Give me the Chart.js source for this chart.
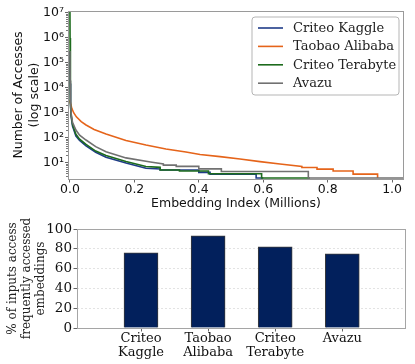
<!DOCTYPE html>
<html><head><meta charset="utf-8">
<script src="https://cdn.jsdelivr.net/npm/chart.js@4.4.1/dist/chart.umd.min.js"></script>
<style>
html,body{margin:0;padding:0;background:#fff;width:415px;height:364px;overflow:hidden;}
canvas{position:absolute;left:0;}
#c1{top:0;}
#c2{top:215px;}
</style></head><body>
<canvas id="c1" width="415" height="215"></canvas>
<canvas id="c2" width="415" height="149"></canvas>
<script>
// ---------- data: top chart (embedding index in millions, number of accesses) ----------
const seriesNames  = ['Criteo Kaggle', 'Taobao Alibaba', 'Criteo Terabyte', 'Avazu'];
const seriesColors = ['#1f3c88', '#e5641a', '#1d6b1d', '#717171'];

const kaggleX = [0, 0.0008, 0.002, 0.004, 0.008, 0.0186, 0.03, 0.05, 0.08, 0.112, 0.174, 0.236, 0.28, 0.28, 0.40, 0.40, 0.435, 0.435, 0.578, 0.578, 0.60];
const kaggleY = [3e5, 1.5e4, 2000, 700, 300, 120, 80, 48, 27, 17, 10, 6.2, 5.8, 5.25, 5.25, 4.2, 4.2, 3.6, 3.6, 2.5, 2.5];

const taobaoX = [0, 0.002, 0.006, 0.012, 0.02, 0.035, 0.05, 0.075, 0.112, 0.174, 0.236, 0.298, 0.36, 0.404, 0.466, 0.528, 0.59, 0.652, 0.72, 0.72, 0.767, 0.767, 0.817, 0.817, 0.879, 0.879, 0.955, 0.955];
const taobaoY = [3200, 2400, 1500, 1000, 700, 450, 330, 220, 145, 80, 52, 36, 27.5, 22, 18, 14.5, 11.3, 9.1, 7.3, 6.6, 6.6, 5.7, 5.7, 4.8, 4.8, 3.6, 3.6, 2.5];

const terabyteX = [0, 0.0004, 0.001, 0.002, 0.004, 0.008, 0.0186, 0.03, 0.05, 0.08, 0.112, 0.174, 0.236, 0.28, 0.28, 0.34, 0.34, 0.43, 0.43, 0.595, 0.595, 0.745];
const terabyteY = [1.2e7, 1e6, 2e4, 2500, 800, 350, 140, 90, 55, 30, 20, 11.5, 7.2, 6.7, 5.25, 5.25, 4.8, 4.8, 3.7, 3.7, 2.5, 2.5];

const avazuX = [0, 0.0008, 0.002, 0.004, 0.008, 0.0186, 0.03, 0.05, 0.08, 0.112, 0.174, 0.25, 0.29, 0.29, 0.33, 0.33, 0.40, 0.40, 0.47, 0.47, 0.74, 0.74, 1.035];
const avazuY = [3e5, 2e4, 2500, 900, 420, 209, 130, 83, 45, 28, 16, 11, 9.2, 8.2, 8.2, 7.3, 7.3, 5.8, 5.8, 4.6, 4.6, 2.5, 2.5];

const xTickValues = [0, 0.2, 0.4, 0.6, 0.8, 1.0];
const yTickValues = [1e1, 1e2, 1e3, 1e4, 1e5, 1e6, 1e7];

// ---------- data: bottom chart ----------
const barCategories = [['Criteo', 'Kaggle'], ['Taobao', 'Alibaba'], ['Criteo', 'Terabyte'], ['Avazu']];
const barValues = [76, 93, 82, 75];
const barTickValues = [0, 20, 40, 60, 80, 100];

// ---------- helpers ----------
const sup = ['⁰','¹','²','³','⁴','⁵','⁶','⁷','⁸','⁹'];
const toPoints = (xs, ys) => xs.map((x, i) => ({x: x, y: ys[i]}));
const seriesX = [kaggleX, taobaoX, terabyteX, avazuX];
const seriesY = [kaggleY, taobaoY, terabyteY, avazuY];
const drawOrder = [3, 2, 1, 0]; // Avazu drawn on top

const SANS = "'DejaVu Sans', sans-serif";
const SERIF = "'DejaVu Serif', serif";

const frameBox = {
  id: 'frameBox',
  afterDatasetsDraw(chart, args, opts) {
    const {ctx, chartArea: a} = chart;
    ctx.save();
    ctx.strokeStyle = opts.color || '#999';
    ctx.lineWidth = 1;
    ctx.strokeRect(Math.round(a.left) + 0.5, Math.round(a.top) + 0.5, Math.round(a.right - a.left) - 1, Math.round(a.bottom - a.top));
    if (opts.minor) {
      const y = chart.scales.y;
      ctx.strokeStyle = '#777';
      ctx.beginPath();
      for (let k = 0; k < 8; k++) {
        for (let m = 2; m <= 9; m++) {
          const v = m * Math.pow(10, k);
          if (v < y.min || v > y.max) continue;
          const py = Math.round(y.getPixelForValue(v)) + 0.5;
          ctx.moveTo(a.left - 2, py); ctx.lineTo(a.left, py);
        }
      }
      ctx.stroke();
    }
    ctx.restore();
  }
};

const boxLegend = {
  id: 'boxLegend',
  afterDraw(chart, args, opts) {
    if (!opts.show) return;
    const {ctx, chartArea: a} = chart;
    const bx = a.right - 152, by = a.top + 6, bw = 147, bh = 78, r = 3;
    ctx.save();
    ctx.beginPath();
    ctx.moveTo(bx + r, by);
    ctx.arcTo(bx + bw, by, bx + bw, by + bh, r);
    ctx.arcTo(bx + bw, by + bh, bx, by + bh, r);
    ctx.arcTo(bx, by + bh, bx, by, r);
    ctx.arcTo(bx, by, bx + bw, by, r);
    ctx.closePath();
    ctx.fillStyle = 'rgba(255,255,255,0.9)';
    ctx.fill();
    ctx.strokeStyle = '#b5b5b5';
    ctx.lineWidth = 1;
    ctx.stroke();
    ctx.font = "13px " + SERIF;
    ctx.textBaseline = 'middle';
    ctx.textAlign = 'left';
    seriesNames.forEach((name, i) => {
      const y = by + 11 + i * 18.4;
      ctx.strokeStyle = seriesColors[i];
      ctx.lineWidth = 1.6;
      ctx.beginPath();
      ctx.moveTo(bx + 6, y); ctx.lineTo(bx + 31, y);
      ctx.stroke();
      ctx.fillStyle = '#222';
      ctx.fillText(name, bx + 41, y + 0.5);
    });
    ctx.restore();
  }
};

// ---------- top chart ----------
new Chart(document.getElementById('c1'), {
  type: 'line',
  data: {
    datasets: seriesNames.map((n, i) => ({
      label: n,
      data: toPoints(seriesX[i], seriesY[i]),
      borderColor: seriesColors[i],
      backgroundColor: seriesColors[i],
      borderWidth: 1.6,
      pointRadius: 0,
      tension: 0,
      fill: false,
      order: drawOrder[i]
    }))
  },
  options: {
    responsive: false,
    animation: false,
    events: [],
    layout: {padding: {top: 11, right: 11, left: 0, bottom: 0}},
    plugins: {legend: {display: false}, tooltip: {enabled: false},
      frameBox: {color: '#9a9a9a', minor: true}, boxLegend: {show: true}},
    scales: {
      x: {
        type: 'linear', min: -0.006, max: 1.037,
        afterBuildTicks: s => { s.ticks = xTickValues.map(v => ({value: v})); },
        afterFit: s => { s.height = 36; },
        ticks: {callback: v => Number(v).toFixed(1), color: '#111', padding: 0,
          font: {family: SANS, size: 12.5, lineHeight: 1.1}, maxRotation: 0, autoSkip: false},
        grid: {drawOnChartArea: false, drawTicks: true, tickLength: 3.5, tickColor: '#666'},
        border: {display: false},
        title: {display: true, text: 'Embedding Index (Millions)', color: '#111',
          font: {family: SANS, size: 12.5, lineHeight: 1.2}, padding: {top: 0, bottom: 4}}
      },
      y: {
        type: 'logarithmic', min: 2.29, max: 1.2e7,
        afterBuildTicks: s => { s.ticks = yTickValues.map(v => ({value: v})); },
        afterFit: s => { s.width = 68; },
        ticks: {callback: v => '10' + sup[Math.round(Math.log10(v))], color: '#111', padding: 1,
          font: {family: SANS, size: 12.5}, autoSkip: false},
        grid: {drawOnChartArea: false, drawTicks: true, tickLength: 3, tickColor: '#666'},
        border: {display: false},
        title: {display: true, text: ['Number of Accesses', '(log scale)'], color: '#111',
          font: {family: SANS, size: 12.5, lineHeight: '16px'}, padding: {top: 11, bottom: 0}}
      }
    }
  },
  plugins: [frameBox, boxLegend]
});

// ---------- bottom chart ----------
new Chart(document.getElementById('c2'), {
  type: 'bar',
  data: {
    datasets: [{
      data: barValues.map((v, i) => ({x: i, y: v})),
      backgroundColor: '#02205c',
      borderColor: '#3a3a3a',
      borderWidth: 1,
      barThickness: 34
    }]
  },
  options: {
    responsive: false,
    animation: false,
    events: [],
    layout: {padding: {top: 14, right: 9, left: 0, bottom: 0}},
    plugins: {legend: {display: false}, tooltip: {enabled: false},
      frameBox: {color: '#a5a5a5', minor: false}, boxLegend: {show: false}},
    scales: {
      x: {
        type: 'linear', min: -0.954, max: 3.95, offset: false,
        afterBuildTicks: s => { s.ticks = barCategories.map((c, i) => ({value: i})); },
        afterFit: s => { s.height = 36; },
        ticks: {callback: v => barCategories[Math.round(v)], color: '#111', padding: 0,
          font: {family: SERIF, size: 13, lineHeight: '14px'}, maxRotation: 0, autoSkip: false},
        grid: {offset: false, drawOnChartArea: false, drawTicks: true, tickLength: 3.5, tickColor: '#666'},
        border: {display: false}
      },
      y: {
        min: 0, max: 100,
        afterBuildTicks: s => { s.ticks = barTickValues.map(v => ({value: v})); },
        afterFit: s => { s.width = 77; },
        ticks: {color: '#111', padding: 1.5, font: {family: SERIF, size: 13.5}, autoSkip: false},
        grid: {drawOnChartArea: true, color: '#e3e3e3', drawTicks: true, tickLength: 3.5, tickColor: '#666'},
        border: {display: false, dash: [2, 2]},
        title: {display: true, text: ['% of inputs access', 'frequently accessed', 'embeddings'], color: '#222',
          font: {family: SERIF, size: 12, lineHeight: '14px'}, padding: {top: 6, bottom: 0}}
      }
    }
  },
  plugins: [frameBox, boxLegend]
});
</script>
</body></html>
